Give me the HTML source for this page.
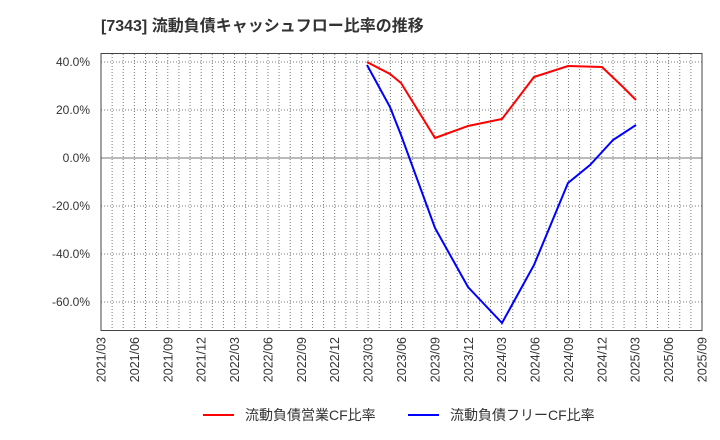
<!DOCTYPE html>
<html><head><meta charset="utf-8"><style>body{margin:0;background:#fff}svg{display:block}text{font-family:"Liberation Sans","Noto Sans CJK JP",sans-serif;fill:#333}</style></head><body>
<svg width="720" height="440" xmlns="http://www.w3.org/2000/svg">
<text x="101" y="31" font-size="16" font-weight="bold">[7343]  流動負債キャッシュフロー比率の推移</text>
<g id="grid" stroke="#777" stroke-width="1" stroke-dasharray="1,2"></g>
<line x1="101" y1="158" x2="702" y2="158" stroke="#777" stroke-width="1"/>
<rect x="101" y="53.5" width="601" height="277" fill="none" stroke="#444" stroke-width="1"/>
<g font-size="12" text-anchor="end">
<text x="90" y="66">40.0%</text><text x="90" y="114">20.0%</text><text x="90" y="162">0.0%</text>
<text x="90" y="210">-20.0%</text><text x="90" y="258">-40.0%</text><text x="90" y="306">-60.0%</text>
</g>
<g id="xl" font-size="12.5" text-anchor="end"></g>
<polyline fill="none" stroke="#f00" stroke-width="2" points="367,62 390,74 401,83 435,138 468,126 502,119 534,77 568,66 602,67 623,87 636,100"/>
<polyline fill="none" stroke="#00f" stroke-width="2" points="367,65 390,107 401,135 435,228 468,287 502,323 534,265 568,183 590,165 602,152 613,140 636,125"/>
<line x1="203" y1="415" x2="234" y2="415" stroke="#f00" stroke-width="2"/>
<text x="245" y="420" font-size="14">流動負債営業CF比率</text>
<line x1="408" y1="415" x2="439" y2="415" stroke="#00f" stroke-width="2"/>
<text x="450" y="420" font-size="14">流動負債フリーCF比率</text>
<script>
var g=document.getElementById('grid'),ns="http://www.w3.org/2000/svg";
for(var i=1;i<54;i++){var x=101+i*601/54;var l=document.createElementNS(ns,'line');l.setAttribute('x1',x);l.setAttribute('x2',x);l.setAttribute('y1',54);l.setAttribute('y2',330);g.appendChild(l);}
[62,110,206,254,302].forEach(function(y){var l=document.createElementNS(ns,'line');l.setAttribute('x1',101);l.setAttribute('x2',702);l.setAttribute('y1',y);l.setAttribute('y2',y);g.appendChild(l);});
var xl=document.getElementById('xl'),m=['03','06','09','12'];
for(var q=0;q<=18;q++){var x=101+q*601/18,yr=2021+Math.floor(q/4);var t=document.createElementNS(ns,'text');t.setAttribute('transform','translate('+(x+4.5)+',337) rotate(-90)');t.textContent=yr+'/'+m[q%4];xl.appendChild(t);}
</script>
</svg></body></html>
